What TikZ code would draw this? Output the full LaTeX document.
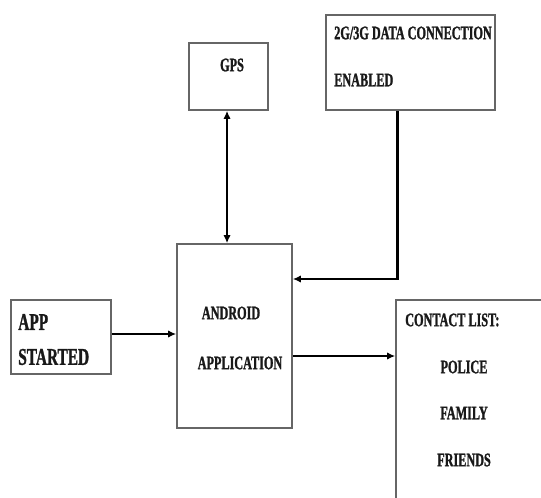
\documentclass[tikz,border=0pt]{standalone}
\usepackage{fontspec}
\usepackage{tikz}
\usetikzlibrary{arrows.meta, positioning, calc}
\newfontfamily\diagfont[FakeStretch=0.64, FakeBold=1.2]{Liberation Serif}

\tikzset{
  box/.style={draw=black!60, line width=1.2pt, inner sep=0pt},
  lbl/.style={font=\diagfont\bfseries\fontsize{14.3}{16}\selectfont, inner sep=0pt, text=black!90},
  biglbl/.style={lbl, font=\diagfont\bfseries\fontsize{18}{20}\selectfont},
  flow/.style={line width=2.1pt, -{Latex[length=6pt,width=5.5pt]}},
}

\begin{document}
\begin{tikzpicture}[x=0.75pt, y=-0.75pt]
\clip (0,0) rectangle (541,498);
\fill[white] (0,0) rectangle (541,498);

% GPS
\node[box, minimum width=59.25pt, minimum height=50.25pt] (gps) at (228.5,76.5) {};
\node[lbl] (gpstxt) at (232,65) {GPS};

% data connection
\node[box, minimum width=126.75pt, minimum height=71.25pt] (conn) at (410.5,62.5) {};
\node[lbl, anchor=west] (conntxt) at (334,33) {2G/3G DATA CONNECTION};
\node[lbl, anchor=west] (conntxtb) at (334,80) {ENABLED};

% android application
\node[box, minimum width=86.25pt, minimum height=138pt] (android) at (234.5,336) {};
\node[lbl] (androidtxt) at (231,313) {ANDROID};
\node[lbl] (androidtxtb) at (240,363) {APPLICATION};

% app started
\node[box, minimum width=75pt, minimum height=55.5pt] (app) at (61,337) {};
\node[biglbl, anchor=west] (apptxt) at (18,322) {APP};
\node[biglbl, anchor=west] (apptxtb) at (18,357) {STARTED};

% contact list
\node[box, minimum width=123pt, minimum height=165pt] (contact) at (478,410) {};
\node[lbl, anchor=west] (contacttxt) at (405,320) {CONTACT LIST:};
\node[lbl] (police) at (464,367) {POLICE};
\node[lbl] (family) at (464,413) {FAMILY};
\node[lbl] (friends) at (464,460) {FRIENDS};

% connections
\draw[flow, {Latex[length=6pt,width=5.5pt]}-{Latex[length=6pt,width=5.5pt]}] ([xshift=-1.1pt]gps.south) -- ([xshift=-1.1pt]gps.south |- android.north);
\draw[flow] ([xshift=-10pt]conn.south) |- ([yshift=42.75pt]android.east);
\draw[flow] ([yshift=2.25pt]app.east) -- ([yshift=2.25pt]app.east -| android.west);
\draw[flow] ([yshift=-15pt]android.east) -- ([yshift=-15pt]android.east -| contact.west);
\end{tikzpicture}
\end{document}
